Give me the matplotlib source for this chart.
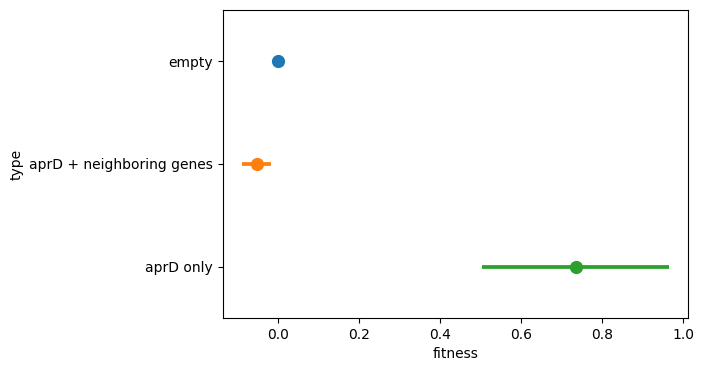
import matplotlib
matplotlib.use('Agg')
import matplotlib.pyplot as plt

# Data
types = ['empty', 'aprD + neighboring genes', 'aprD only']
fitness_mean = [0.0, -0.050, 0.737]
ci_low = [0.0, -0.088, 0.504]
ci_high = [0.0, -0.017, 0.966]
colors = ['#1f77b4', '#ff7f0e', '#2ca02c']

fig, ax = plt.subplots(figsize=(7.03, 3.71), dpi=100)
fig.subplots_adjust(left=0.317, right=0.979, top=0.973, bottom=0.143)

for i, (t, m, lo, hi, c) in enumerate(zip(types, fitness_mean, ci_low, ci_high, colors)):
    if hi > lo:
        ax.plot([lo, hi], [i, i], color=c, lw=2.7, solid_capstyle='butt')
    ax.plot([m], [i], marker='o', ms=8.5, color=c, linestyle='none')

ax.set_yticks(range(len(types)))
ax.set_yticklabels(types)
ax.set_ylim(len(types) - 0.5, -0.5)
ax.set_xlim(-0.135, 1.013)
ax.set_xlabel('fitness')
ax.set_ylabel('type')

plt.savefig('out.png', dpi=100)
